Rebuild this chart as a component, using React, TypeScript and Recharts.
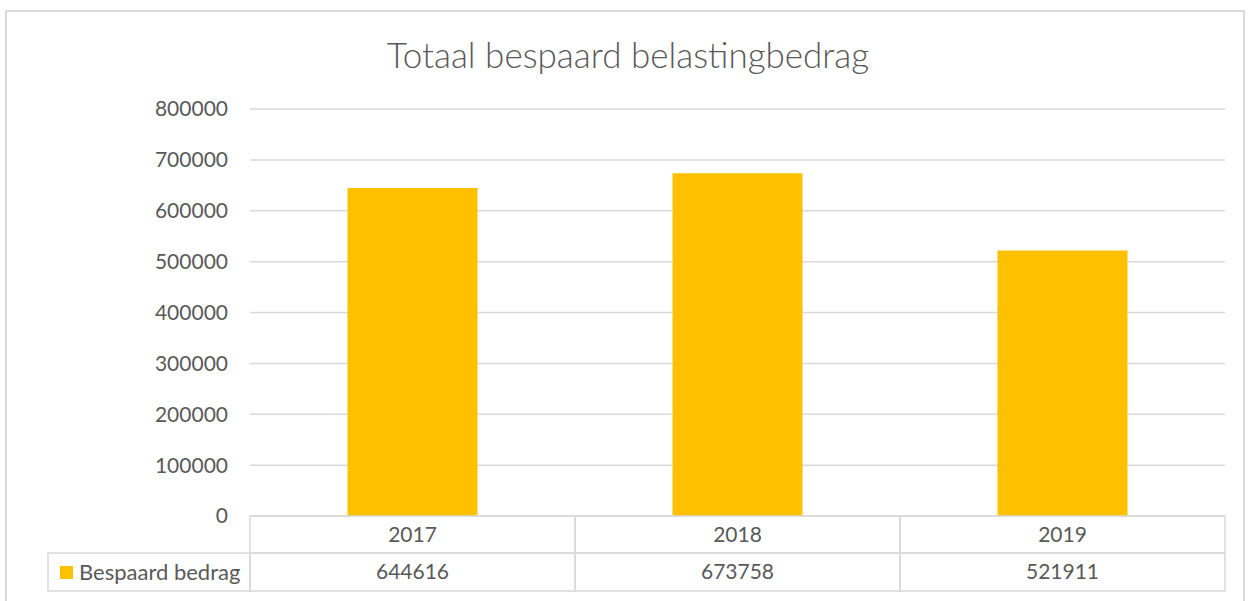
import { Bar, BarChart, CartesianGrid, XAxis, YAxis } from "recharts";

const years = ["2017", "2018", "2019"];
const bespaard = [644616, 673758, 521911];
const yTicks = [0, 100000, 200000, 300000, 400000, 500000, 600000, 700000, 800000];
const seriesName = "Bespaard bedrag";
const title = "Totaal bespaard belastingbedrag";

const data = years.map((year, i) => ({ year, value: bespaard[i] }));

const W = 1251;
const H = 601;
const PLOT_LEFT = 250;
const PLOT_RIGHT = 1225;
const PLOT_BOTTOM = 516;
const CELL_W = (PLOT_RIGHT - PLOT_LEFT) / years.length;
const ROW1 = 37;
const ROW2 = 38;
const LEGEND_LEFT = 48;

const FONT = "Lato, 'Noto Sans', sans-serif";
const TEXT = "#595959";
const LINE = "#d9d9d9";
const GOLD = "#FFC000";

function TableTick(props: any) {
  const { x, payload, index } = props;
  const left = x - CELL_W / 2;
  const top = PLOT_BOTTOM;
  return (
    <g>
      <rect x={left} y={top} width={CELL_W} height={ROW1} fill="none" stroke={LINE} strokeWidth={1.5} />
      <rect x={left} y={top + ROW1} width={CELL_W} height={ROW2} fill="none" stroke={LINE} strokeWidth={1.5} />
      <text x={x} y={top + ROW1 / 2} dy="0.35em" textAnchor="middle" fill={TEXT} fontSize={21} fontFamily={FONT}>
        {payload.value}
      </text>
      <text x={x} y={top + ROW1 + ROW2 / 2} dy="0.35em" textAnchor="middle" fill={TEXT} fontSize={21} fontFamily={FONT}>
        {bespaard[index]}
      </text>
      {index === 0 && (
        <g>
          <rect
            x={LEGEND_LEFT}
            y={top + ROW1}
            width={PLOT_LEFT - LEGEND_LEFT}
            height={ROW2}
            fill="none"
            stroke={LINE}
            strokeWidth={1.5}
          />
          <rect x={60} y={top + ROW1 + 13} width={13} height={13} fill={GOLD} />
          <text x={79} y={top + ROW1 + ROW2 / 2} dy="0.35em" fill={TEXT} fontSize={22} fontFamily={FONT}>
            {seriesName}
          </text>
        </g>
      )}
    </g>
  );
}

export default function App() {
  return (
    <div style={{ position: "absolute", left: 0, top: 0, width: W, height: H, background: "#fff", overflow: "hidden" }}>
      <div
        style={{
          position: "absolute",
          left: 5,
          top: 10,
          width: 1240,
          height: 640,
          border: `2px solid ${LINE}`,
          boxSizing: "border-box",
        }}
      />
      <div
        style={{
          position: "absolute",
          left: 0,
          top: 33,
          width: 1256,
          textAlign: "center",
          fontFamily: FONT,
          fontSize: 35,
          fontWeight: 300,
          lineHeight: "42px",
          color: TEXT,
        }}
      >
        {title}
      </div>
      <div style={{ position: "absolute", left: 0, top: 0 }}>
        <BarChart
          width={W}
          height={H}
          data={data}
          margin={{ top: 109, right: W - PLOT_RIGHT, bottom: 0, left: 0 }}
          barCategoryGap="30%"
        >
          <CartesianGrid vertical={false} stroke={LINE} strokeWidth={1.5} />
          <XAxis
            dataKey="year"
            height={H - PLOT_BOTTOM}
            axisLine={false}
            tickLine={false}
            tickSize={0}
            tickMargin={0}
            interval={0}
            tick={<TableTick />}
          />
          <YAxis
            width={PLOT_LEFT}
            domain={[0, 800000]}
            ticks={yTicks}
            axisLine={false}
            tickLine={false}
            tickSize={0}
            tickMargin={22}
            tick={{ fill: TEXT, fontSize: 21, fontFamily: FONT }}
          />
          <Bar dataKey="value" fill={GOLD} isAnimationActive={false} />
        </BarChart>
      </div>
    </div>
  );
}
